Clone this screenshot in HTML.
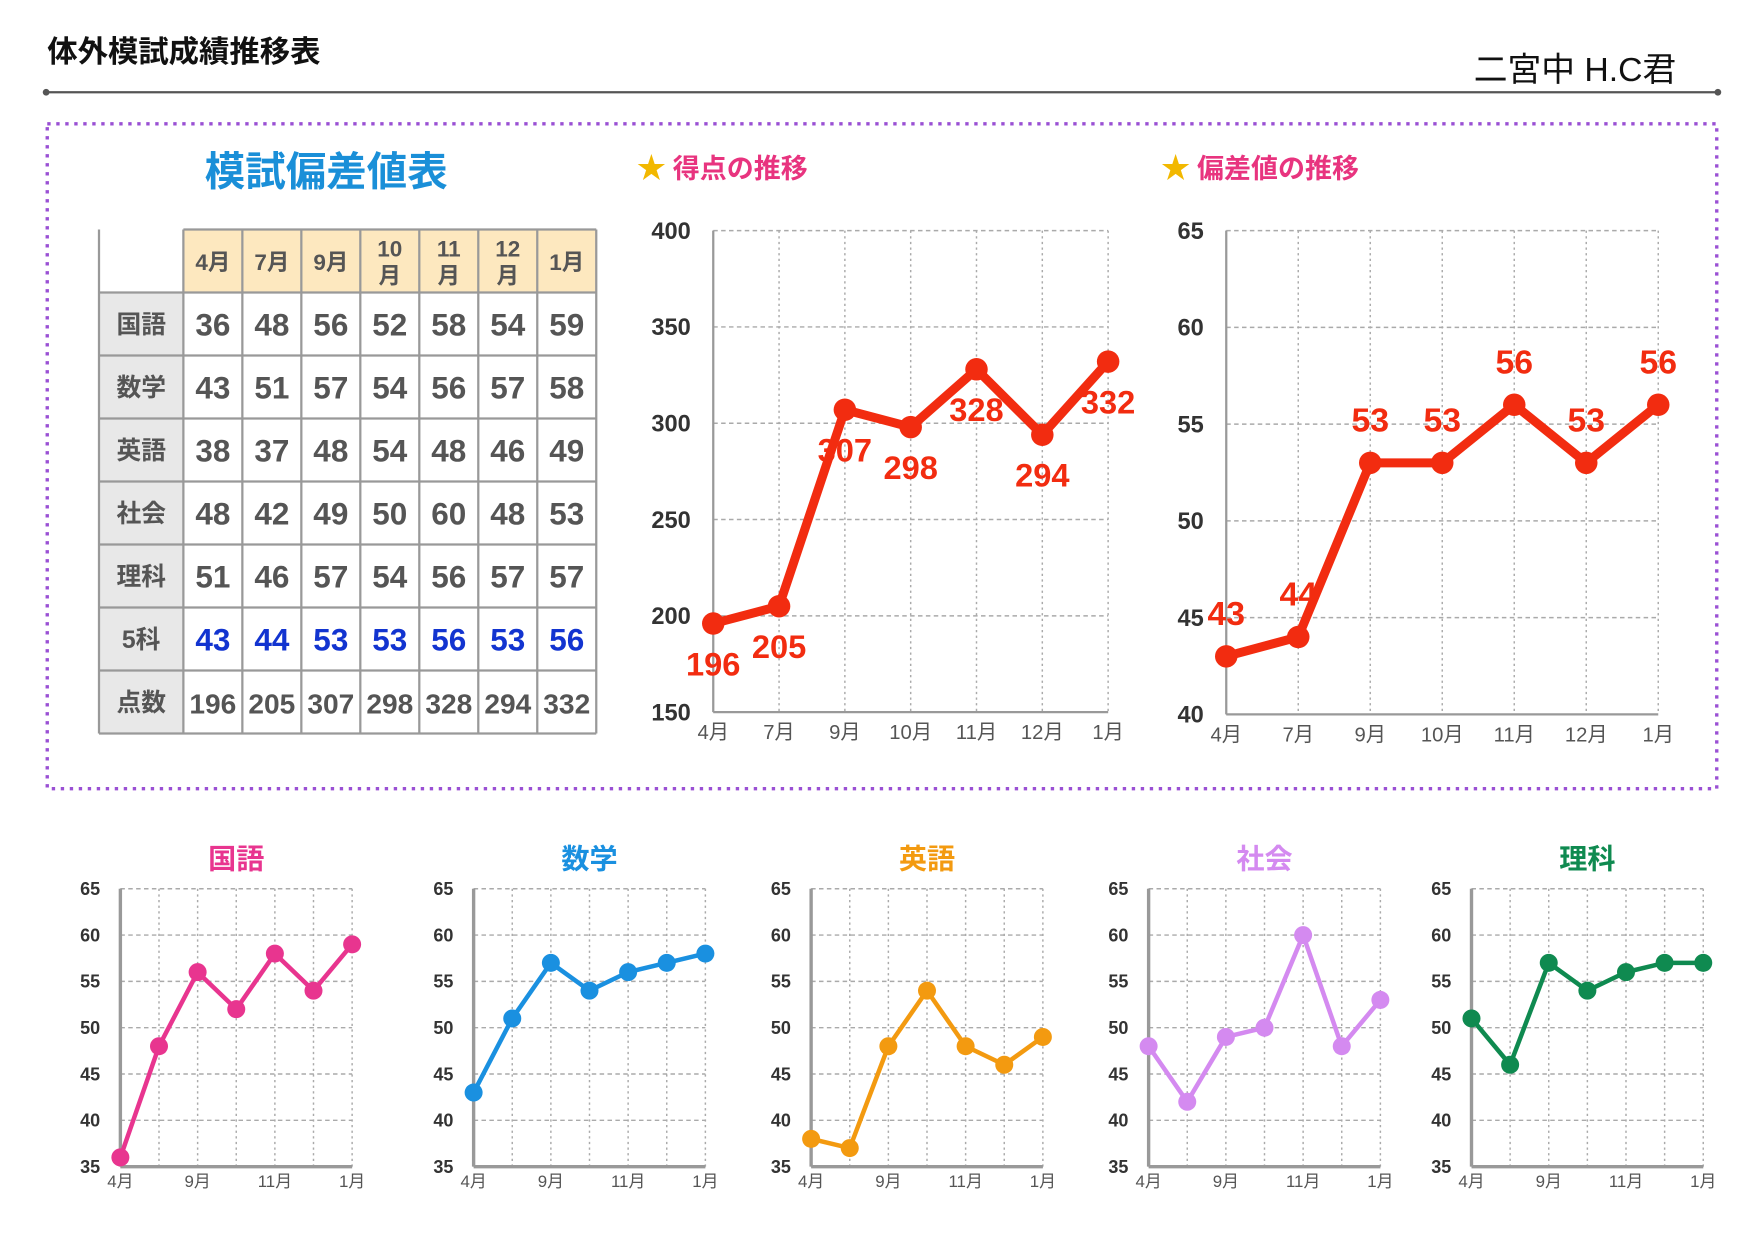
<!DOCTYPE html>
<html><head><meta charset="utf-8"><style>
html,body{margin:0;padding:0;background:#fff;}
svg{display:block;font-family:"Liberation Sans","Noto Sans CJK JP",sans-serif;}
</style></head><body>
<svg id="root" width="1755" height="1240" viewBox="0 0 1560 1102.2">
<text x="42" y="55" font-size="27" font-weight="bold" fill="#111">体外模試成績推移表</text>
<text x="1490" y="72" font-size="30" text-anchor="end" fill="#111">二宮中 H.C君</text>
<line x1="41" y1="82" x2="1527" y2="82" stroke="#555" stroke-width="2"/>
<circle cx="41" cy="82" r="3" fill="#555"/>
<circle cx="1527" cy="82" r="3" fill="#555"/>
<rect x="42" y="110" width="1484" height="591" fill="none" stroke="#9a50d4" stroke-width="3" stroke-dasharray="3 5"/>
<text x="290" y="165" font-size="36" font-weight="bold" fill="#1a8fd8" text-anchor="middle">模試偏差値表</text>
<g id="tbl"></g>
<g>
<text x="566" y="158" font-size="26" fill="#f2b800">★</text>
<text x="598" y="158" font-size="24" font-weight="bold" fill="#e8347f">得点の推移</text></g>
<g>
<text x="1032" y="158" font-size="26" fill="#f2b800">★</text>
<text x="1064" y="158" font-size="24" font-weight="bold" fill="#e8347f">偏差値の推移</text></g>
<g id="scoreChart"></g>
<g id="devChart"></g>
<g id="small"></g>
</svg>
<script>
const months = ["4月","7月","9月","10月","11月","12月","1月"];
const tableMonths = ["4月","7月","9月","10\n月","11\n月","12\n月","1月"];
const subjects = ["国語","数学","英語","社会","理科"];
const kokugo = [36,48,56,52,58,54,59];
const sugaku = [43,51,57,54,56,57,58];
const eigo = [38,37,48,54,48,46,49];
const shakai = [48,42,49,50,60,48,53];
const rika = [51,46,57,54,56,57,57];
const total5 = [43,44,53,53,56,53,56];
const scores = [196,205,307,298,328,294,332];
const scoreTicks = [150,200,250,300,350,400];
const devTicks = [40,45,50,55,60,65];
const smallTicks = [35,40,45,50,55,60,65];
const smallXLabels = ["4月","","9月","","11月","","1月"];

const NS="http://www.w3.org/2000/svg";
function mk(tag,attrs,parent,text){const e=document.createElementNS(NS,tag);for(const k in attrs)e.setAttribute(k,attrs[k]);if(text!==undefined)e.textContent=text;parent.appendChild(e);return e;}

const tbl=document.getElementById('tbl');
const tx0=88,c0w=75,cw=(530-163)/7,ty0=204,rh=56;
const rows=[kokugo,sugaku,eigo,shakai,rika,total5,scores];
const rowNames=["国語","数学","英語","社会","理科","5科","点数"];
const hdrBg=mk('rect',{x:163,y:ty0,width:367,height:rh,fill:'#fde8bf'},tbl);


const lcBg=mk('rect',{x:tx0,y:ty0+rh,width:c0w,height:rh*7,fill:'#e8e8e8'},tbl);


tableMonths.forEach((m,i)=>{
  const cx=163+cw*(i+0.5);const parts=m.split("\n");
  parts.forEach((p,j)=>{const t=mk('text',{x:cx,y:parts.length>1?ty0+24+j*24:ty0+36,'font-size':20,'font-weight':'bold',fill:'#555','text-anchor':'middle'},tbl,p);
  
  });
});
rows.forEach((r,ri)=>{
  const y=ty0+rh*(ri+1)+rh/2+9;
  const h=mk('text',{x:tx0+c0w/2,y:y-1,'font-size':22,'font-weight':'bold',fill:'#555','text-anchor':'middle'},tbl,rowNames[ri]);
  
  
  r.forEach((v,ci)=>{
    const t=mk('text',{x:163+cw*(ci+0.5),y:y+1,'font-size':ri===6?25:28,'font-weight':'bold',fill:ri===5?'#1234d0':'#555','text-anchor':'middle'},tbl,v);
    
    
  });
});
for(let i=0;i<=8;i++){const y=ty0+rh*i;mk('line',{x1:i===0?163:tx0,y1:y,x2:530,y2:y,stroke:'#999','stroke-width':2},tbl);}
mk('line',{x1:tx0,y1:ty0,x2:tx0,y2:652,stroke:'#999','stroke-width':2},tbl);
for(let i=0;i<=7;i++){const x=163+cw*i;mk('line',{x1:x,y1:ty0,x2:x,y2:652,stroke:'#999','stroke-width':2},tbl);}

function chart(g,o){
  const xs=i=>o.x0+(o.x1-o.x0)*i/(o.vals.length-1);
  const ys=v=>o.y1-(o.y1-o.y0)*(v-o.min)/(o.max-o.min);
  o.ticks.forEach(t=>{
    const gl=mk('line',{x1:o.x0,y1:ys(t),x2:o.x1,y2:ys(t),stroke:'#aaa','stroke-width':1.3,'stroke-dasharray':'4 3'},g);
    
    
    const tl=mk('text',{x:o.x0-o.yoff,y:ys(t)+o.yfs*0.35,'font-size':o.yfs,'font-weight':'bold',fill:'#333','text-anchor':'end'},g,t);
    
    
  });
  o.vals.forEach((v,i)=>{
    const gl=mk('line',{x1:xs(i),y1:o.y0,x2:xs(i),y2:o.y1,stroke:'#aaa','stroke-width':1.3,'stroke-dasharray':'2 3'},g);
    
    
    if(o.xl[i]){const xl=mk('text',{x:xs(i),y:o.y1+o.xoff,'font-size':o.xfs,fill:'#555','text-anchor':'middle'},g,o.xl[i]);
    
    }
  });
  mk('line',{x1:o.x0,y1:o.y0,x2:o.x0,y2:o.y1,stroke:'#999','stroke-width':o.axw},g);
  mk('line',{x1:o.x0,y1:o.y1,x2:o.x1,y2:o.y1,stroke:'#999','stroke-width':o.axw},g);
  const pl=mk('polyline',{points:o.vals.map((v,i)=>xs(i)+','+ys(v)).join(' '),fill:'none',stroke:o.color,'stroke-width':o.lw,'stroke-linejoin':'round'},g);
  
  
  o.vals.forEach((v,i)=>{
    const c=mk('circle',{cx:xs(i),cy:ys(v),r:o.r,fill:o.color},g);
    
    
    if(o.labelDy){const l=mk('text',{x:xs(i),y:ys(v)+o.labelDy,'font-size':o.lfs,'font-weight':'bold',fill:o.color,'text-anchor':'middle'},g,v);
    
    }
  });
}
chart(document.getElementById('scoreChart'),{x0:634,x1:985,y0:205,y1:633,min:150,max:400,vals:scores,ticks:scoreTicks,xl:months,color:'#f22c10',lw:8,r:10,labelDy:46,lfs:29,yfs:21,yoff:20,xfs:18,xoff:24,axw:2});
chart(document.getElementById('devChart'),{x0:1090,x1:1474,y0:205,y1:635,min:40,max:65,vals:total5,ticks:devTicks,xl:months,color:'#f22c10',lw:8,r:10,labelDy:-28,lfs:30,yfs:21,yoff:20,xfs:18,xoff:24,axw:2});

const smallData=[kokugo,sugaku,eigo,shakai,rika];
const smallColors=['#e8358f','#1a90e0','#f39a10','#d48af0','#0f8a50'];
const smallX=[107,421,721,1021,1308];
smallData.forEach((d,k)=>{
  const g=mk('g',{},document.getElementById('small'));
  
  
  const x0=smallX[k],x1=x0+206;
  const t=mk('text',{x:(x0+x1)/2,y:772,'font-size':25,'font-weight':'bold',fill:smallColors[k],'text-anchor':'middle'},g,subjects[k]);
  
  
  chart(g,{x0:x0,x1:x1,y0:790,y1:1037,min:35,max:65,vals:d,ticks:smallTicks,xl:smallXLabels,color:smallColors[k],lw:4,r:8,labelDy:0,lfs:0,yfs:16,yoff:18,xfs:15,xoff:18,axw:3});
});
</script>
</body></html>
